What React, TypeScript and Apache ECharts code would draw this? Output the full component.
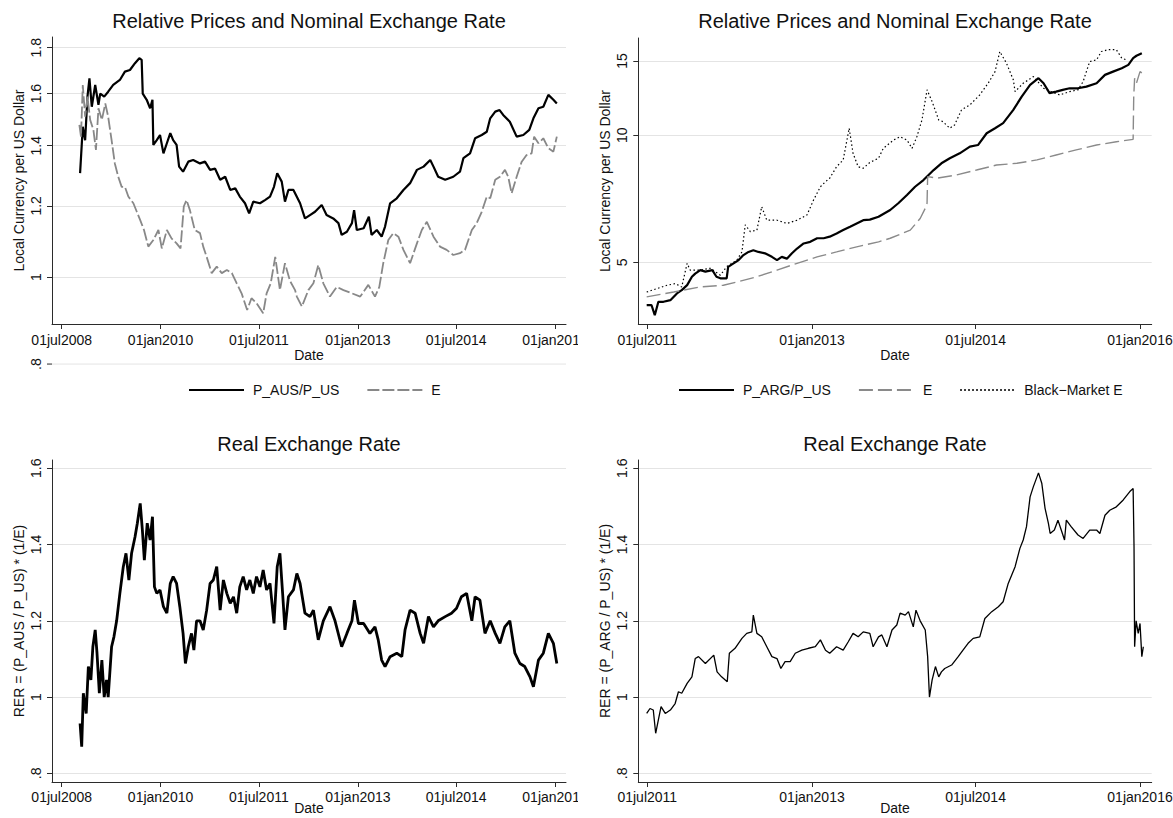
import React, { useEffect, useRef } from "react";
import * as echarts from "echarts";

const FONT = "'Liberation Sans', Arial, Helvetica, sans-serif";

// ---------- Tick values ----------
const AUS_X_TICKS = ["2008-07-01", "2010-01-01", "2011-07-01", "2013-01-01", "2014-07-01", "2016-01-01"];
const ARG_X_TICKS = ["2011-07-01", "2013-01-01", "2014-07-01", "2016-01-01"];
const AUS_PRICE_Y_TICKS = [1, 1.2, 1.4, 1.6, 1.8];
const AUS_PRICE_STRAY_TICK = 0.8;
const ARG_PRICE_Y_TICKS = [5, 10, 15];
const RER_Y_TICKS = [0.8, 1, 1.2, 1.4, 1.6];

// ---------- Australia: relative prices and nominal exchange rate ----------
const ausRelPrice: [string, number][] = [
  ["2008-10-11", 1.305], ["2008-10-26", 1.47], ["2008-11-08", 1.42], ["2008-11-21", 1.588],
  ["2008-12-02", 1.664], ["2008-12-15", 1.547], ["2009-01-03", 1.636], ["2009-01-21", 1.555],
  ["2009-01-31", 1.6], ["2009-02-22", 1.588], ["2009-03-16", 1.608], ["2009-04-13", 1.636],
  ["2009-05-20", 1.657], ["2009-06-17", 1.693], ["2009-07-15", 1.7], ["2009-08-12", 1.73],
  ["2009-09-05", 1.752], ["2009-09-18", 1.745], ["2009-09-24", 1.6], ["2009-10-16", 1.575],
  ["2009-11-04", 1.541], ["2009-11-17", 1.575], ["2009-11-22", 1.403], ["2009-12-11", 1.42],
  ["2009-12-29", 1.439], ["2010-01-17", 1.373], ["2010-02-05", 1.409], ["2010-02-24", 1.446],
  ["2010-03-12", 1.42], ["2010-03-31", 1.403], ["2010-04-14", 1.327], ["2010-05-06", 1.31],
  ["2010-06-04", 1.344], ["2010-07-01", 1.35], ["2010-08-08", 1.338], ["2010-09-05", 1.344],
  ["2010-10-03", 1.316], ["2010-10-31", 1.32], ["2010-11-28", 1.283], ["2010-12-26", 1.293],
  ["2011-01-23", 1.25], ["2011-02-20", 1.255], ["2011-03-17", 1.229], ["2011-04-15", 1.208],
  ["2011-05-08", 1.177], ["2011-05-31", 1.213], ["2011-07-07", 1.208], ["2011-08-04", 1.218],
  ["2011-09-01", 1.229], ["2011-09-23", 1.26], ["2011-10-11", 1.305], ["2011-11-05", 1.277],
  ["2011-11-23", 1.213], ["2011-12-12", 1.25], ["2012-01-09", 1.25], ["2012-02-15", 1.208],
  ["2012-03-13", 1.162], ["2012-04-10", 1.172], ["2012-05-08", 1.182], ["2012-06-14", 1.203],
  ["2012-07-11", 1.172], ["2012-08-17", 1.162], ["2012-09-15", 1.148], ["2012-10-03", 1.114],
  ["2012-11-01", 1.123], ["2012-11-29", 1.148], ["2012-12-11", 1.187], ["2012-12-26", 1.128],
  ["2013-02-02", 1.133], ["2013-03-03", 1.167], ["2013-03-18", 1.114], ["2013-04-16", 1.128],
  ["2013-05-13", 1.109], ["2013-06-01", 1.138], ["2013-06-29", 1.208], ["2013-08-05", 1.2235],
  ["2013-09-11", 1.25], ["2013-10-18", 1.272], ["2013-11-25", 1.316], ["2014-01-01", 1.327],
  ["2014-02-07", 1.35], ["2014-02-25", 1.327], ["2014-03-23", 1.293], ["2014-05-01", 1.283],
  ["2014-06-15", 1.293], ["2014-07-22", 1.31], ["2014-08-10", 1.356], ["2014-09-16", 1.373],
  ["2014-10-14", 1.427], ["2014-11-20", 1.439], ["2014-12-18", 1.451], ["2015-01-06", 1.502],
  ["2015-02-03", 1.528], ["2015-02-27", 1.534], ["2015-03-19", 1.515], ["2015-04-25", 1.489],
  ["2015-06-02", 1.433], ["2015-07-09", 1.439], ["2015-08-11", 1.458], ["2015-09-03", 1.502],
  ["2015-10-01", 1.541], ["2015-10-28", 1.547], ["2015-11-25", 1.595], ["2015-12-23", 1.575],
  ["2016-01-11", 1.56],
];

const ausE: [string, number][] = [
  ["2008-10-07", 1.477], ["2008-10-16", 1.433], ["2008-10-26", 1.636], ["2008-11-08", 1.508],
  ["2008-11-21", 1.588], ["2008-12-06", 1.496], ["2008-12-24", 1.458], ["2009-01-07", 1.385],
  ["2009-01-21", 1.541], ["2009-02-09", 1.496], ["2009-02-28", 1.56], ["2009-03-16", 1.508],
  ["2009-04-04", 1.42], ["2009-04-22", 1.338], ["2009-05-11", 1.293], ["2009-05-30", 1.26],
  ["2009-06-17", 1.26], ["2009-07-06", 1.229], ["2009-08-03", 1.208], ["2009-08-22", 1.182],
  ["2009-09-10", 1.157], ["2009-10-01", 1.128], ["2009-10-25", 1.081], ["2009-11-22", 1.0995],
  ["2009-12-20", 1.128], ["2010-01-08", 1.076], ["2010-02-05", 1.128], ["2010-03-03", 1.104],
  ["2010-03-31", 1.09], ["2010-04-22", 1.076], ["2010-05-10", 1.198], ["2010-05-25", 1.218],
  ["2010-06-13", 1.187], ["2010-07-10", 1.128], ["2010-08-08", 1.119], ["2010-08-26", 1.081],
  ["2010-09-14", 1.053], ["2010-10-12", 1.01], ["2010-11-09", 1.027], ["2010-12-07", 1.01],
  ["2011-01-04", 1.018], ["2011-02-01", 1.01], ["2011-02-28", 0.984], ["2011-03-27", 0.959],
  ["2011-04-27", 0.919], ["2011-05-21", 0.947], ["2011-06-18", 0.935], ["2011-07-25", 0.911],
  ["2011-08-13", 0.959], ["2011-09-05", 0.984], ["2011-09-30", 1.053], ["2011-10-26", 0.967],
  ["2011-11-23", 1.036], ["2011-12-21", 0.99], ["2012-01-18", 0.967], ["2012-01-28", 0.951],
  ["2012-02-25", 0.927], ["2012-04-01", 0.967], ["2012-04-29", 0.984], ["2012-05-26", 1.031],
  ["2012-06-23", 0.984], ["2012-07-30", 0.951], ["2012-09-06", 0.975], ["2012-10-13", 0.967],
  ["2012-11-29", 0.959], ["2013-01-14", 0.951], ["2013-02-28", 0.98], ["2013-04-06", 0.951],
  ["2013-04-30", 0.975], ["2013-05-22", 1.036], ["2013-06-19", 1.0995], ["2013-07-17", 1.119],
  ["2013-08-14", 1.109], ["2013-09-11", 1.072], ["2013-10-18", 1.036], ["2013-11-25", 1.09],
  ["2013-12-22", 1.128], ["2014-01-19", 1.152], ["2014-02-25", 1.109], ["2014-04-02", 1.081],
  ["2014-05-09", 1.072], ["2014-06-15", 1.058], ["2014-07-22", 1.063], ["2014-08-19", 1.072],
  ["2014-09-26", 1.128], ["2014-10-23", 1.148], ["2014-11-20", 1.182], ["2014-12-18", 1.229],
  ["2015-01-06", 1.2235], ["2015-02-03", 1.283], ["2015-03-01", 1.293], ["2015-03-29", 1.316],
  ["2015-04-16", 1.293], ["2015-05-05", 1.239], ["2015-06-02", 1.293], ["2015-06-30", 1.344],
  ["2015-07-27", 1.367], ["2015-08-24", 1.373], ["2015-09-07", 1.433], ["2015-10-01", 1.409],
  ["2015-10-28", 1.427], ["2015-11-25", 1.391], ["2015-12-23", 1.379], ["2016-01-11", 1.433],
];

// ---------- Australia: real exchange rate ----------
const ausRER: [string, number][] = [
  ["2008-10-11", 0.931], ["2008-10-20", 0.87], ["2008-10-29", 1.01], ["2008-11-14", 0.957],
  ["2008-11-26", 1.08], ["2008-12-10", 1.045], ["2008-12-21", 1.132], ["2009-01-03", 1.176],
  ["2009-01-13", 1.115], ["2009-01-26", 1.01], ["2009-02-09", 1.097], ["2009-02-22", 1.0],
  ["2009-03-07", 1.045], ["2009-03-16", 1.0], ["2009-04-04", 1.132], ["2009-04-17", 1.158],
  ["2009-05-02", 1.2], ["2009-05-20", 1.272], ["2009-06-08", 1.342], ["2009-06-23", 1.377],
  ["2009-07-09", 1.307], ["2009-07-24", 1.377], ["2009-08-12", 1.42], ["2009-08-25", 1.456],
  ["2009-09-10", 1.508], ["2009-09-22", 1.438], ["2009-10-03", 1.359], ["2009-10-19", 1.456],
  ["2009-11-04", 1.412], ["2009-11-17", 1.473], ["2009-11-28", 1.289], ["2009-12-11", 1.272],
  ["2009-12-29", 1.281], ["2010-01-17", 1.237], ["2010-02-05", 1.22], ["2010-02-24", 1.298],
  ["2010-03-12", 1.316], ["2010-03-31", 1.298], ["2010-04-18", 1.237], ["2010-05-06", 1.167],
  ["2010-05-19", 1.088], ["2010-06-04", 1.132], ["2010-06-22", 1.167], ["2010-07-05", 1.123],
  ["2010-07-20", 1.2], ["2010-08-08", 1.2], ["2010-08-26", 1.176], ["2010-09-14", 1.228],
  ["2010-10-03", 1.298], ["2010-10-21", 1.307], ["2010-11-09", 1.342], ["2010-11-28", 1.228],
  ["2010-12-16", 1.307], ["2011-01-04", 1.272], ["2011-01-23", 1.246], ["2011-02-10", 1.263],
  ["2011-02-28", 1.22], ["2011-03-17", 1.289], ["2011-04-05", 1.316], ["2011-04-24", 1.281],
  ["2011-05-12", 1.307], ["2011-05-31", 1.272], ["2011-06-18", 1.316], ["2011-07-07", 1.289],
  ["2011-07-25", 1.333], ["2011-08-13", 1.281], ["2011-09-01", 1.298], ["2011-09-23", 1.193],
  ["2011-10-11", 1.342], ["2011-10-26", 1.377], ["2011-11-10", 1.272], ["2011-11-23", 1.176],
  ["2011-12-12", 1.263], ["2012-01-09", 1.281], ["2012-01-28", 1.324], ["2012-02-15", 1.298],
  ["2012-03-13", 1.22], ["2012-04-10", 1.211], ["2012-04-29", 1.228], ["2012-05-26", 1.15],
  ["2012-06-23", 1.2], ["2012-07-30", 1.237], ["2012-08-27", 1.2], ["2012-10-03", 1.132],
  ["2012-11-01", 1.167], ["2012-11-29", 1.2], ["2012-12-13", 1.254], ["2013-01-04", 1.193],
  ["2013-02-02", 1.193], ["2013-03-09", 1.167], ["2013-04-06", 1.184], ["2013-04-24", 1.15],
  ["2013-05-13", 1.097], ["2013-06-01", 1.08], ["2013-06-29", 1.106], ["2013-08-05", 1.115],
  ["2013-09-02", 1.106], ["2013-09-20", 1.176], ["2013-10-18", 1.228], ["2013-11-15", 1.22],
  ["2013-12-13", 1.167], ["2014-01-01", 1.141], ["2014-01-28", 1.211], ["2014-02-25", 1.184],
  ["2014-03-23", 1.2], ["2014-05-01", 1.211], ["2014-06-05", 1.22], ["2014-07-03", 1.233],
  ["2014-07-30", 1.263], ["2014-08-28", 1.272], ["2014-09-26", 1.2], ["2014-10-14", 1.263],
  ["2014-11-10", 1.254], ["2014-12-08", 1.167], ["2015-01-06", 1.2], ["2015-02-03", 1.167],
  ["2015-03-01", 1.141], ["2015-03-28", 1.184], ["2015-04-25", 1.2], ["2015-05-23", 1.115],
  ["2015-06-20", 1.088], ["2015-07-17", 1.08], ["2015-08-15", 1.053], ["2015-09-03", 1.027],
  ["2015-10-01", 1.097], ["2015-10-28", 1.115], ["2015-11-25", 1.167], ["2015-12-23", 1.141],
  ["2016-01-11", 1.088],
];

// ---------- Argentina: relative prices, official and black-market exchange rate ----------
const argRelPrice: [string, number][] = [
  ["2011-06-29", 3.957], ["2011-07-15", 3.96], ["2011-07-26", 3.746], ["2011-08-07", 4.03],
  ["2011-08-24", 4.03], ["2011-09-16", 4.066], ["2011-10-08", 4.218], ["2011-10-24", 4.295],
  ["2011-11-11", 4.413], ["2011-11-27", 4.62], ["2011-12-08", 4.7], ["2011-12-25", 4.79],
  ["2012-01-11", 4.75], ["2012-02-03", 4.79], ["2012-02-17", 4.62], ["2012-03-01", 4.58],
  ["2012-03-22", 4.58], ["2012-03-27", 4.877], ["2012-04-14", 4.97], ["2012-05-01", 5.06],
  ["2012-05-17", 5.2], ["2012-06-03", 5.29], ["2012-06-19", 5.34], ["2012-07-06", 5.29],
  ["2012-07-28", 5.25], ["2012-08-20", 5.15], ["2012-09-06", 5.06], ["2012-09-22", 5.15],
  ["2012-10-09", 5.1], ["2012-10-26", 5.25], ["2012-11-12", 5.39], ["2012-12-04", 5.54],
  ["2012-12-26", 5.59], ["2013-01-18", 5.7], ["2013-02-09", 5.7], ["2013-03-01", 5.75],
  ["2013-03-24", 5.85], ["2013-04-15", 5.96], ["2013-05-08", 6.07], ["2013-05-30", 6.18],
  ["2013-06-21", 6.29], ["2013-07-13", 6.31], ["2013-08-11", 6.41], ["2013-09-19", 6.65],
  ["2013-10-16", 6.9], ["2013-11-14", 7.22], ["2013-12-11", 7.55], ["2014-01-08", 7.83],
  ["2014-02-11", 8.27], ["2014-03-09", 8.58], ["2014-04-06", 8.82], ["2014-05-09", 9.06],
  ["2014-06-12", 9.4], ["2014-07-09", 9.48], ["2014-08-07", 10.11], ["2014-09-04", 10.39],
  ["2014-10-01", 10.68], ["2014-11-04", 11.48], ["2014-12-02", 12.35], ["2014-12-30", 13.16],
  ["2015-01-27", 13.65], ["2015-02-13", 13.28], ["2015-03-05", 12.58], ["2015-03-27", 12.69],
  ["2015-04-18", 12.81], ["2015-05-11", 12.92], ["2015-06-08", 12.92], ["2015-07-06", 13.04],
  ["2015-08-09", 13.28], ["2015-09-06", 13.9], ["2015-10-03", 14.15], ["2015-11-01", 14.42],
  ["2015-11-23", 14.68], ["2015-12-09", 15.23], ["2015-12-20", 15.43], ["2016-01-07", 15.65],
];

const argE: [string, number][] = [
  ["2011-06-29", 4.14], ["2011-09-27", 4.25], ["2011-12-25", 4.37], ["2012-03-11", 4.41],
  ["2012-04-25", 4.49], ["2012-07-01", 4.62], ["2012-09-06", 4.79], ["2012-11-12", 4.97],
  ["2013-01-18", 5.15], ["2013-03-24", 5.29], ["2013-05-30", 5.44], ["2013-08-11", 5.59],
  ["2013-09-19", 5.7], ["2013-11-25", 5.96], ["2013-12-28", 6.35], ["2014-01-14", 6.71],
  ["2014-01-20", 6.9], ["2014-01-22", 7.98], ["2014-02-22", 7.91], ["2014-04-28", 8.05],
  ["2014-07-04", 8.27], ["2014-09-09", 8.5], ["2014-11-16", 8.58], ["2015-01-22", 8.74],
  ["2015-03-27", 8.98], ["2015-06-02", 9.23], ["2015-08-09", 9.48], ["2015-10-14", 9.65],
  ["2015-12-09", 9.78], ["2015-12-11", 12.35], ["2015-12-14", 13.65], ["2015-12-20", 13.28],
  ["2016-01-01", 14.15], ["2016-01-09", 14.02],
];

const argBlackE: [string, number][] = [
  ["2011-06-29", 4.25], ["2011-08-02", 4.33], ["2011-09-05", 4.41], ["2011-10-02", 4.45],
  ["2011-10-24", 4.37], ["2011-11-11", 4.97], ["2011-11-21", 4.79], ["2011-12-25", 4.79],
  ["2012-01-27", 4.84], ["2012-03-01", 4.66], ["2012-03-22", 4.88], ["2012-04-25", 5.06],
  ["2012-05-12", 5.29], ["2012-05-23", 6.13], ["2012-06-09", 5.91], ["2012-07-01", 5.96],
  ["2012-07-17", 6.77], ["2012-08-03", 6.29], ["2012-09-06", 6.29], ["2012-10-09", 6.18],
  ["2012-11-12", 6.29], ["2012-12-15", 6.47], ["2013-01-06", 7.02], ["2013-01-29", 7.55],
  ["2013-02-15", 7.76], ["2013-03-01", 7.91], ["2013-03-24", 8.42], ["2013-04-15", 8.74],
  ["2013-05-05", 10.39], ["2013-05-18", 9.06], ["2013-06-04", 8.42], ["2013-06-21", 8.35],
  ["2013-07-13", 8.62], ["2013-08-11", 8.82], ["2013-08-27", 9.31], ["2013-09-30", 9.74],
  ["2013-10-22", 9.92], ["2013-11-14", 9.74], ["2013-12-01", 9.31], ["2013-12-17", 9.92],
  ["2014-01-03", 10.87], ["2014-01-20", 12.81], ["2014-02-06", 12.01], ["2014-02-28", 10.87],
  ["2014-03-14", 10.77], ["2014-04-06", 10.39], ["2014-04-22", 10.58], ["2014-05-15", 11.48],
  ["2014-06-12", 11.8], ["2014-07-15", 12.46], ["2014-08-12", 13.28], ["2014-09-04", 14.15],
  ["2014-09-20", 15.79], ["2014-10-12", 14.82], ["2014-11-04", 13.53], ["2014-11-10", 12.69],
  ["2014-12-07", 13.28], ["2015-01-10", 13.77], ["2015-02-13", 12.92], ["2015-03-10", 12.69],
  ["2015-04-08", 12.46], ["2015-05-11", 12.69], ["2015-06-08", 12.81], ["2015-06-25", 13.4],
  ["2015-07-17", 14.95], ["2015-08-09", 15.09], ["2015-08-25", 15.79], ["2015-09-17", 15.95],
  ["2015-10-14", 15.95], ["2015-11-01", 15.23], ["2015-11-17", 15.09],
];

// ---------- Argentina: real exchange rate ----------
const argRER: [string, number][] = [
  ["2011-06-29", 0.957], ["2011-07-10", 0.97], ["2011-07-21", 0.966], ["2011-07-29", 0.905],
  ["2011-08-07", 0.94], ["2011-08-16", 0.975], ["2011-08-30", 0.957], ["2011-09-16", 0.966],
  ["2011-10-02", 0.983], ["2011-10-13", 1.014], ["2011-10-24", 1.01], ["2011-11-11", 1.036],
  ["2011-11-27", 1.053], ["2011-12-08", 1.101], ["2011-12-19", 1.106], ["2012-01-11", 1.088],
  ["2012-02-08", 1.11], ["2012-02-19", 1.066], ["2012-03-05", 1.053], ["2012-03-24", 1.04],
  ["2012-03-31", 1.115], ["2012-04-19", 1.128], ["2012-05-12", 1.154], ["2012-05-28", 1.167],
  ["2012-06-14", 1.171], ["2012-06-19", 1.215], ["2012-07-01", 1.167], ["2012-07-17", 1.158],
  ["2012-08-03", 1.132], ["2012-08-20", 1.106], ["2012-09-06", 1.101], ["2012-09-19", 1.075],
  ["2012-10-03", 1.093], ["2012-10-20", 1.093], ["2012-11-06", 1.115], ["2012-11-28", 1.123],
  ["2012-12-20", 1.128], ["2013-01-12", 1.132], ["2013-01-29", 1.15], ["2013-02-15", 1.123],
  ["2013-03-01", 1.115], ["2013-03-24", 1.132], ["2013-04-15", 1.123], ["2013-05-02", 1.145],
  ["2013-05-18", 1.167], ["2013-06-04", 1.158], ["2013-06-21", 1.171], ["2013-07-13", 1.167],
  ["2013-07-24", 1.132], ["2013-08-11", 1.158], ["2013-08-22", 1.163], ["2013-09-08", 1.132],
  ["2013-09-25", 1.176], ["2013-10-11", 1.189], ["2013-10-22", 1.22], ["2013-11-08", 1.215],
  ["2013-11-19", 1.224], ["2013-12-05", 1.184], ["2013-12-14", 1.228], ["2013-12-28", 1.2],
  ["2014-01-14", 1.176], ["2014-01-22", 1.106], ["2014-01-28", 1.0], ["2014-02-06", 1.045],
  ["2014-02-17", 1.08], ["2014-02-28", 1.053], ["2014-03-09", 1.066], ["2014-03-20", 1.075],
  ["2014-04-12", 1.084], ["2014-05-04", 1.106], ["2014-05-20", 1.123], ["2014-06-06", 1.141],
  ["2014-06-23", 1.154], ["2014-07-15", 1.158], ["2014-08-01", 1.206], ["2014-08-24", 1.224],
  ["2014-09-15", 1.237], ["2014-10-01", 1.25], ["2014-10-18", 1.298], ["2014-11-10", 1.342],
  ["2014-11-26", 1.39], ["2014-12-07", 1.412], ["2014-12-18", 1.447], ["2014-12-30", 1.525],
  ["2015-01-10", 1.552], ["2015-01-27", 1.588], ["2015-02-07", 1.561], ["2015-02-18", 1.495],
  ["2015-03-01", 1.456], ["2015-03-07", 1.429], ["2015-03-21", 1.438], ["2015-04-02", 1.464],
  ["2015-04-13", 1.438], ["2015-04-24", 1.412], ["2015-04-30", 1.464], ["2015-05-16", 1.447],
  ["2015-06-08", 1.425], ["2015-06-25", 1.416], ["2015-07-17", 1.438], ["2015-08-09", 1.438],
  ["2015-08-20", 1.429], ["2015-09-06", 1.477], ["2015-09-22", 1.49], ["2015-10-14", 1.499],
  ["2015-11-06", 1.517], ["2015-11-28", 1.539], ["2015-12-09", 1.547], ["2015-12-12", 1.394],
  ["2015-12-14", 1.132], ["2015-12-19", 1.2], ["2015-12-26", 1.167], ["2016-01-01", 1.193],
  ["2016-01-07", 1.106], ["2016-01-12", 1.132],
];

// ---------- helpers ----------
const MONTHS = ["jan", "feb", "mar", "apr", "may", "jun", "jul", "aug", "sep", "oct", "nov", "dec"];
const ts = (s: string) => {
  const [y, m, d] = s.split("-").map(Number);
  return Date.UTC(y, m - 1, d);
};
const toSeries = (arr: [string, number][]) => arr.map(([d, v]) => [ts(d), v]);
const fmtDate = (v: number) => {
  const dt = new Date(v);
  return String(dt.getUTCDate()).padStart(2, "0") + MONTHS[dt.getUTCMonth()] + dt.getUTCFullYear();
};
const fmtY = (v: number) => {
  let s = String(Math.round(v * 100) / 100);
  if (s.startsWith("0.")) s = s.slice(1);
  return s;
};

const AXIS_COLOR = "#2b2b2b";
const TEXT_COLOR = "#111";
const GRID_COLOR = "#e4e4e4";

const xAxisDef = (gridIndex: number, min: string, max: string, ticks: string[], labelMargin: number, nameGap: number) => ({
  gridIndex,
  type: "value",
  min: ts(min),
  max: ts(max),
  scale: true,
  name: "Date",
  nameLocation: "middle",
  nameGap,
  nameMoveOverlap: false,
  nameTextStyle: { fontSize: 14, fontFamily: FONT, color: TEXT_COLOR },
  axisLine: { show: true, onZero: false, lineStyle: { color: AXIS_COLOR, width: 1 } },
  axisTick: { show: true, length: 5, customValues: ticks.map(ts), lineStyle: { color: AXIS_COLOR } },
  axisLabel: {
    customValues: ticks.map(ts),
    margin: labelMargin,
    fontSize: 14,
    fontFamily: FONT,
    color: TEXT_COLOR,
    formatter: (v: number) => fmtDate(v),
  },
  splitLine: { show: false },
});

const yAxisDef = (gridIndex: number, type: string, min: number, max: number, ticks: number[], name: string) => ({
  gridIndex,
  type,
  min,
  max,
  name,
  nameLocation: "middle",
  nameGap: 26,
  nameMoveOverlap: false,
  nameTextStyle: { fontSize: 14, fontFamily: FONT, color: TEXT_COLOR },
  axisLine: { show: true, onZero: false, lineStyle: { color: AXIS_COLOR, width: 1 } },
  axisTick: { show: true, length: 5, customValues: ticks, lineStyle: { color: AXIS_COLOR } },
  axisLabel: {
    customValues: ticks,
    rotate: 90,
    margin: 9,
    fontSize: 14,
    fontFamily: FONT,
    color: TEXT_COLOR,
    formatter: (v: number) => fmtY(v),
  },
  splitLine: { show: true, lineStyle: { color: GRID_COLOR, width: 1 } },
});

const titleText = (id: string, text: string, x: number, y: number) => ({
  id,
  type: "text",
  x,
  y,
  silent: true,
  style: {
    text,
    fill: TEXT_COLOR,
    font: `20px ${FONT}`,
    textAlign: "center",
    textVerticalAlign: "middle",
  },
});

const lineSeries = (name: string, data: [string, number][], idx: number, lineStyle: any) => ({
  name,
  type: "line",
  xAxisIndex: idx,
  yAxisIndex: idx,
  data: toSeries(data),
  symbol: "none",
  showSymbol: false,
  silent: true,
  lineStyle,
  itemStyle: { color: lineStyle.color },
  color: lineStyle.color,
});

const legendDef = (left: number, names: string[]) => ({
  left,
  top: 378,
  orient: "horizontal",
  itemWidth: 55,
  itemHeight: 14,
  itemGap: 27,
  data: names,
  selectedMode: false,
  itemStyle: { opacity: 0, borderWidth: 0 },
  textStyle: { fontSize: 14, fontFamily: FONT, color: TEXT_COLOR, padding: [0, 0, 0, 4] },
});

function buildLeft() {
  return {
    animation: false,
    backgroundColor: "#ffffff",
    textStyle: { fontFamily: FONT },
    grid: [
      { left: 52, top: 37, width: 514, height: 287, outerBoundsMode: "none", containLabel: false },
      { left: 52, top: 460, width: 514, height: 322, outerBoundsMode: "none", containLabel: false },
    ],
    xAxis: [
      xAxisDef(0, "2008-05-08", "2016-03-02", AUS_X_TICKS, 9, 24),
      xAxisDef(1, "2008-05-08", "2016-03-02", AUS_X_TICKS, 8, 19),
    ],
    yAxis: [
      yAxisDef(0, "log", 0.8865, 1.85, AUS_PRICE_Y_TICKS, "Local Currency per US Dollar"),
      yAxisDef(1, "value", 0.7772, 1.6218, RER_Y_TICKS, "RER = (P_AUS / P_US) * (1/E)"),
    ],
    legend: legendDef(183, ["P_AUS/P_US", "E"]),
    series: [
      lineSeries("P_AUS/P_US", ausRelPrice, 0, { color: "#000000", width: 2.2 }),
      lineSeries("E", ausE, 0, { color: "#888888", width: 1.8, type: [12, 3] }),
      lineSeries("RER", ausRER, 1, { color: "#000000", width: 2.8 }),
    ],
    graphic: [
      titleText("t1", "Relative Prices and Nominal Exchange Rate", 309, 21),
      titleText("t2", "Real Exchange Rate", 309, 444),
    ],
  };
}

function buildRight() {
  return {
    animation: false,
    backgroundColor: "#ffffff",
    textStyle: { fontFamily: FONT },
    grid: [
      { left: 60.3, top: 38, width: 513.4, height: 286, outerBoundsMode: "none", containLabel: false },
      { left: 60.3, top: 460, width: 513.4, height: 322, outerBoundsMode: "none", containLabel: false },
    ],
    xAxis: [
      xAxisDef(0, "2011-06-01", "2016-02-09", ARG_X_TICKS, 9, 24),
      xAxisDef(1, "2011-06-01", "2016-02-09", ARG_X_TICKS, 8, 19),
    ],
    yAxis: [
      yAxisDef(0, "log", 3.57, 17.0, ARG_PRICE_Y_TICKS, "Local Currency per US Dollar"),
      yAxisDef(1, "value", 0.7772, 1.6218, RER_Y_TICKS, "RER = (P_ARG / P_US) * (1/E)"),
    ],
    legend: legendDef(95, ["P_ARG/P_US", "E", "Black\u2212Market E"]),
    series: [
      lineSeries("P_ARG/P_US", argRelPrice, 0, { color: "#000000", width: 2.2 }),
      lineSeries("E", argE, 0, { color: "#8a8a8a", width: 1.4, type: [14, 5] }),
      lineSeries("Black\u2212Market E", argBlackE, 0, { color: "#000000", width: 1.2, type: [1.5, 2.5] }),
      lineSeries("RER", argRER, 1, { color: "#000000", width: 1.3 }),
    ],
    graphic: [
      titleText("t1", "Relative Prices and Nominal Exchange Rate", 317, 21),
      titleText("t2", "Real Exchange Rate", 317, 444),
    ],
  };
}

export default function App() {
  const leftRef = useRef<HTMLDivElement>(null);
  const rightRef = useRef<HTMLDivElement>(null);

  useEffect(() => {
    const left = echarts.init(leftRef.current as HTMLDivElement, null, { renderer: "svg" });
    const right = echarts.init(rightRef.current as HTMLDivElement, null, { renderer: "svg" });
    left.setOption(buildLeft() as any);
    right.setOption(buildRight() as any);

    // Stata draws the out-of-range ".8" tick of the log axis below the plot region
    let yStray: any = null;
    try {
      yStray = left.convertToPixel({ yAxisIndex: 0 } as any, AUS_PRICE_STRAY_TICK);
    } catch (e) {
      yStray = null;
    }
    if (typeof yStray === "number" && isFinite(yStray)) {
      left.setOption({
        graphic: [
          {
            id: "strayGrid",
            type: "line",
            silent: true,
            shape: { x1: 52, y1: yStray, x2: 566, y2: yStray },
            style: { stroke: GRID_COLOR, lineWidth: 1 },
          },
          {
            id: "strayTick",
            type: "line",
            silent: true,
            shape: { x1: 47, y1: yStray, x2: 52, y2: yStray },
            style: { stroke: AXIS_COLOR, lineWidth: 1 },
          },
          {
            id: "strayLabel",
            type: "text",
            silent: true,
            x: 36,
            y: yStray,
            rotation: Math.PI / 2,
            style: {
              text: fmtY(AUS_PRICE_STRAY_TICK),
              fill: TEXT_COLOR,
              font: `14px ${FONT}`,
              textAlign: "center",
              textVerticalAlign: "middle",
            },
          },
        ],
      } as any);
    }

    return () => {
      left.dispose();
      right.dispose();
    };
  }, []);

  return (
    <div style={{ position: "absolute", left: 0, top: 0, width: 1173, height: 818, background: "#fff", overflow: "hidden" }}>
      <div ref={leftRef} style={{ position: "absolute", left: 0, top: 0, width: 578, height: 818 }} />
      <div ref={rightRef} style={{ position: "absolute", left: 578, top: 0, width: 595, height: 818 }} />
    </div>
  );
}
